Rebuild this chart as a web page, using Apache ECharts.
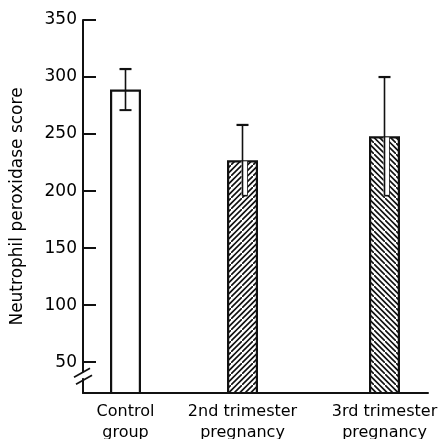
<!DOCTYPE html>
<html>
<head>
<meta charset="utf-8">
<script src="https://cdn.jsdelivr.net/npm/echarts@6/dist/echarts.min.js"></script>
<style>html,body{margin:0;padding:0;background:#fff}#c{width:438px;height:439px}</style>
</head>
<body>
<div id="c"></div>
<script>
// ---- data ----
var categories = ['Control\ngroup', '2nd trimester\npregnancy', '3rd trimester\npregnancy'];
var groupPositions = [4.25, 15.95, 30.15];   // horizontal placement of groups (unequal spacing in original)
var means = [289, 227, 248];
var errors = [18, 31, 52];
var yTicks = [50, 100, 150, 200, 250, 300, 350];
var hatch = ['none', 'forward', 'back'];

function makePattern(dir) {
  var s = 11, c = document.createElement('canvas');
  c.width = s; c.height = s;
  var g = c.getContext('2d');
  g.fillStyle = '#fff'; g.fillRect(0, 0, s, s);
  g.strokeStyle = '#111'; g.lineWidth = 1.6;
  g.beginPath();
  var h = s / 2;
  if (dir === 'forward') {
    g.moveTo(-1, h + 1); g.lineTo(h + 1, -1);
    g.moveTo(-1, s + 1); g.lineTo(s + 1, -1);
    g.moveTo(h - 1, s + 1); g.lineTo(s + 1, h - 1);
  } else {
    g.moveTo(-1, h - 1); g.lineTo(h + 1, s + 1);
    g.moveTo(-1, -1); g.lineTo(s + 1, s + 1);
    g.moveTo(h - 1, -1); g.lineTo(s + 1, h + 1);
  }
  g.stroke();
  return { image: c, repeat: 'repeat' };
}

var barData = means.map(function (m, i) {
  return {
    value: [groupPositions[i], m],
    itemStyle: {
      color: hatch[i] === 'none' ? '#fff' : makePattern(hatch[i]),
      borderColor: '#111', borderWidth: 2.2
    }
  };
});

var errData = means.map(function (m, i) {
  return [groupPositions[i], m, errors[i], hatch[i] === 'none' ? 0 : 1];
});

var chart = echarts.init(document.getElementById('c'), null, { renderer: 'canvas' });
var font = 'DejaVu Sans';
chart.setOption({
  animation: false,
  backgroundColor: '#fff',
  grid: { left: 83, right: 10, top: 20, bottom: 46, containLabel: false, outerBoundsMode: 'none' },
  xAxis: {
    type: 'value', min: 0, max: 34.5,
    splitLine: { show: false },
    axisTick: { show: false },
    axisLine: { show: true, lineStyle: { color: '#111', width: 2 } },
    axisLabel: {
      customValues: groupPositions,
      formatter: function (v) {
        for (var i = 0; i < groupPositions.length; i++) if (Math.abs(groupPositions[i] - v) < 1e-6) return categories[i];
        return '';
      },
      color: '#000', fontFamily: font, fontSize: 16, lineHeight: 21, margin: 8,
      showMinLabel: true, showMaxLabel: true, hideOverlap: false
    }
  },
  yAxis: {
    type: 'value', min: 23, max: 350,
    name: 'Neutrophil peroxidase score', nameLocation: 'middle', nameGap: 57,
    nameTextStyle: { color: '#000', fontFamily: font, fontSize: 17 },
    splitLine: { show: false },
    axisLine: { show: true, lineStyle: { color: '#111', width: 2 } },
    axisTick: { show: true, inside: true, length: 13, lineStyle: { color: '#111', width: 2 }, customValues: yTicks },
    axisLabel: { customValues: yTicks, color: '#000', fontFamily: font, fontSize: 17, margin: 6 }
  },
  series: [
    {
      type: 'bar', data: barData, barWidth: 31, clip: true, z: 2
    },
    {
      type: 'custom', z: 5, clip: false,
      data: errData,
      renderItem: function (params, api) {
        var x = api.value(0), m = api.value(1), e = api.value(2), hatched = api.value(3);
        var top = api.coord([x, m + e]);
        var mid = api.coord([x, m]);
        var bot = api.coord([x, m - e]);
        var cx = Math.round(top[0]) - 0.5;
        var children = [];
        var st = { stroke: '#111', lineWidth: 1.6 };
        if (hatched) {
          children.push({ type: 'rect', shape: { x: cx - 1, y: mid[1] + 1, width: 6, height: bot[1] - mid[1] - 1 }, style: { fill: '#fff' } });
          children.push({ type: 'line', shape: { x1: cx, y1: top[1], x2: cx, y2: bot[1] }, style: st });
          children.push({ type: 'line', shape: { x1: cx, y1: bot[1], x2: cx + 5, y2: bot[1] }, style: st });
          children.push({ type: 'line', shape: { x1: cx + 5, y1: mid[1] + 1, x2: cx + 5, y2: bot[1] }, style: { stroke: '#111', lineWidth: 0.8 } });
        } else {
          children.push({ type: 'line', shape: { x1: cx, y1: top[1], x2: cx, y2: bot[1] }, style: st });
          children.push({ type: 'line', shape: { x1: cx - 6, y1: bot[1], x2: cx + 6, y2: bot[1] }, style: { stroke: '#111', lineWidth: 2 } });
        }
        children.push({ type: 'line', shape: { x1: cx - 6, y1: top[1], x2: cx + 6, y2: top[1] }, style: { stroke: '#111', lineWidth: 2.2 } });
        return { type: 'group', children: children };
      }
    }
  ]
});

// axis break marks on the y axis, placed via the axis scale
var p = chart.convertToPixel({ gridIndex: 0 }, [0, 36]);
var ax = p[0], ay = p[1];
chart.setOption({
  graphic: [
    { type: 'rect', shape: { x: ax - 3, y: ay - 6, width: 6, height: 6 }, style: { fill: '#fff' }, z: 10 },
    { type: 'line', shape: { x1: ax - 9, y1: ay - 1, x2: ax + 7, y2: ay - 10 }, style: { stroke: '#111', lineWidth: 1.8 }, z: 11 },
    { type: 'line', shape: { x1: ax - 7, y1: ay + 6, x2: ax + 9, y2: ay - 3 }, style: { stroke: '#111', lineWidth: 1.8 }, z: 11 }
  ]
});
</script>
</body>
</html>
